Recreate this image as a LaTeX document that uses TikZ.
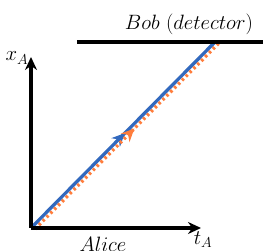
\documentclass[tikz,border=0pt]{standalone}
\usetikzlibrary{arrows.meta,decorations.markings}
\definecolor{wblue}{RGB}{50,105,190}
\definecolor{worange}{RGB}{255,125,60}
\tikzset{
  axis/.style={line width=3.3pt,-{Stealth[length=13pt,width=12pt]}},
  lbl/.style={font=\fontsize{20.5}{24}\selectfont,inner sep=0pt},
  midarrow/.style={postaction={decorate},decoration={markings,mark=at position #1 with {\arrow{Stealth[length=13pt,width=12pt]}}}},
}
\begin{document}
\begin{tikzpicture}[x=1pt,y=-1pt]
\useasboundingbox (0,0) rectangle (274,251);
\coordinate (O) at (31,228);
\coordinate (T) at (201,228);
\coordinate (X) at (31,57);
\coordinate (B1) at (77,42);
\coordinate (B2) at (263,42);
\coordinate (BE) at (215,42);
\coordinate (OE) at (219,43);
\coordinate (O2) at (35,229);
\draw[wblue,line width=3.3pt,midarrow=0.51] (O) -- (BE);
\draw[worange,line width=3.3pt,dash pattern=on 2.5pt off 3pt,midarrow=0.54,-] (O2) -- (OE);
\draw[line width=3.3pt] (B1) -- (B2);
\draw[axis] (O) -- (T);
\draw[axis] (O) -- (X);
\node[lbl] (xa) at (17,58) {$x_A$};
\node[lbl] (ta) at (203,240) {$t_A$};
\node[lbl] (al) at (103,244) {$Alice$};
\node[lbl] (bob) at (189,24) {$Bob\ (detector)$};
\end{tikzpicture}
\end{document}
